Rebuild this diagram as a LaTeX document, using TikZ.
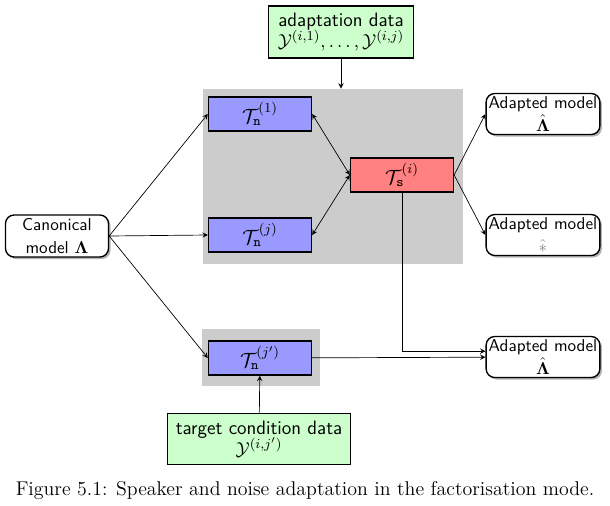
\documentclass[tikz,border=0pt]{standalone}
\usepackage{amsmath,amssymb}
\usetikzlibrary{shadows}

\tikzset{
	model/.style={draw=black, thick, rounded corners=5pt, fill=white, align=center, font=\sffamily,
		drop shadow={opacity=0.6, shadow xshift=1.2pt, shadow yshift=-1.2pt},
		minimum width=2.33cm, minimum height=0.84cm, inner sep=1pt},
	trans/.style={draw=black, thick, minimum width=2.11cm, minimum height=0.70cm, inner sep=1pt, font=\large},
	data/.style={draw=black, thick, fill=green!20, align=center, font=\fontsize{11.3}{12.5}\sffamily, inner sep=2pt},
	group/.style={fill=gray!40, inner sep=0pt},
}

\begin{document}
\begin{tikzpicture}[x=0.0205cm, y=-0.0205cm]
	\useasboundingbox (0,0) rectangle (610,505);
	
	% grey groups
	\node[group, minimum width=5.33cm, minimum height=3.59cm] (grp) at (333,176.5) {};
	\node[group, minimum width=2.42cm, minimum height=1.17cm] (grpt) at (261,357.5) {};
	
	\node[data, minimum width=2.97cm, minimum height=1.07cm] (adapt) at (341,32) {adaptation data\\ $\mathcal{Y}^{(i,1)},\dots,\mathcal{Y}^{(i,j)}$};
	\node[data, minimum width=3.75cm, minimum height=1.05cm] (target) at (259,439) {target condition data\\ $\mathcal{Y}^{(i,j')}$};
	
	\node[model, minimum width=2.11cm, minimum height=0.86cm] (canon) at (57,236) {Canonical\\[1pt] model $\boldsymbol{\Lambda}$};
	
	\foreach \n/\y/\l in {1/114/1, j/235/j, t/358/j'}
	{
		\node[trans, fill=blue!40] (tn\n) at (260,\y) {$\mathcal{T}_{\mathtt{n}}^{(\l)}$};
	}
	\node[trans, fill=red!50] (ts) at (402,175) {$\mathcal{T}_{\mathtt{s}}^{(i)}$};
	
	\foreach \i/\y/\l in {1/114/{$\hat{\boldsymbol{\Lambda}}$}, 2/235/{\color{gray}$\hat{*}$}, 3/357/{$\hat{\boldsymbol{\Lambda}}$}}
	{
		\node[model] (am\i) at (543,\y) {Adapted model\\[1pt] \l};
	}
	
	\draw[-stealth] (adapt) -- (adapt |- grp.north);
	
	\foreach \n in {1, j, t}
	{
		\draw[-stealth] (canon.east) -- (tn\n.west);
	}
	\foreach \n in {1, j}
	{
		\draw[stealth-stealth] (tn\n.east) -- (ts.west);
	}
	\foreach \i in {1, 2}
	{
		\draw[-stealth] (ts.east) -- (am\i.west);
	}
	
	\draw[-stealth] (ts.south) |- ([yshift=0.12cm]am3.west);
	\draw[-stealth] (tnt) -- (am3);
	\draw[-stealth] (target) -- (tnt);
	
	\node[font=\fontsize{11.6}{14}\selectfont] (caption) at (305,491) {Figure 5.1: Speaker and noise adaptation in the factorisation mode.};
	
\end{tikzpicture}
\end{document}
